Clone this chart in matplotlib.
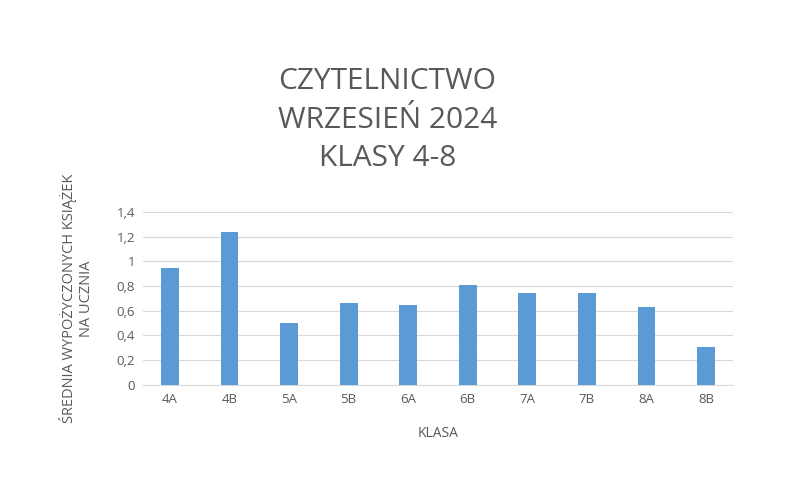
import matplotlib.pyplot as plt

classes = ['4A', '4B', '5A', '5B', '6A', '6B', '7A', '7B', '8A', '8B']
avg_books = [0.95, 1.24, 0.50, 0.66, 0.65, 0.81, 0.74, 0.74, 0.63, 0.31]
y_ticks = [0, 0.2, 0.4, 0.6, 0.8, 1.0, 1.2, 1.4]
y_labels = ['0', '0,2', '0,4', '0,6', '0,8', '1', '1,2', '1,4']

plt.rcParams['font.family'] = ['Open Sans', 'DejaVu Sans']
fig = plt.figure(figsize=(8, 4.84), dpi=100)
ax = fig.add_axes([0.179, 0.205, 0.737, 0.357])

ax.bar(range(len(classes)), avg_books, width=0.3, color='#5b9bd5', zorder=3)
ax.set_xlim(-0.45, len(classes) - 0.55)
ax.set_ylim(0, 1.4)
ax.set_yticks(y_ticks)
ax.set_yticklabels(y_labels)
ax.set_xticks(range(len(classes)))
ax.set_xticklabels(classes)
ax.grid(axis='y', color='#d9d9d9', linewidth=0.8, zorder=0)
for s in ['top', 'right', 'left']:
    ax.spines[s].set_visible(False)
ax.spines['bottom'].set_color('#d9d9d9')
ax.tick_params(length=0, colors='#595959', labelsize=9.5, pad=6)

ax.set_xlabel('KLASA', color='#595959', fontsize=10, labelpad=14)
ax.set_ylabel('ŚREDNIA WYPOŻYCZONYCH KSIĄŻEK\nNA UCZNIA', color='#595959',
              fontsize=10.5, labelpad=16)

fig.text(0.484, 0.752, 'CZYTELNICTWO\nWRZESIEŃ 2024\nKLASY 4-8', ha='center',
         va='center', color='#595959', fontsize=21.5, linespacing=1.45)

fig.savefig('out.png')
